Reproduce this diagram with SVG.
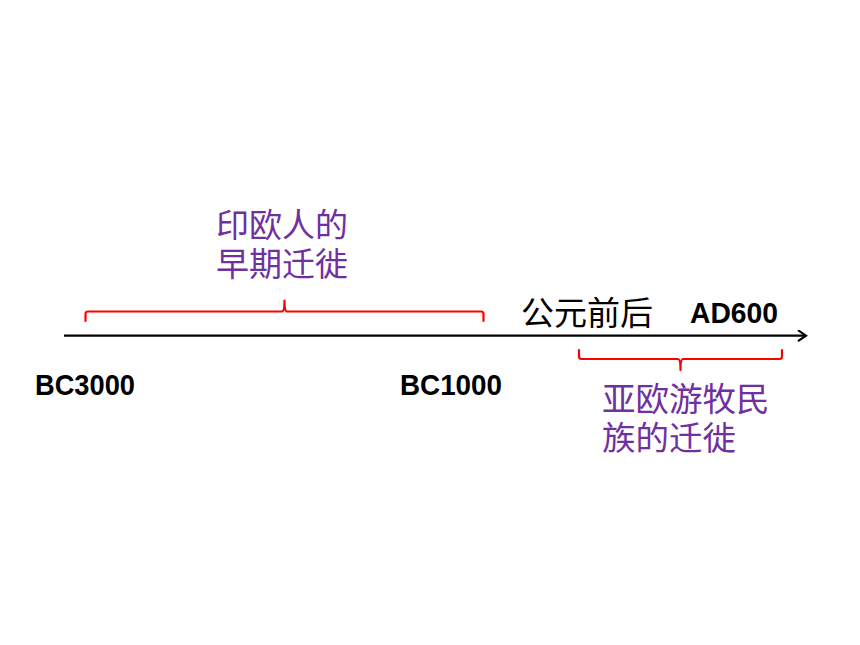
<svg xmlns="http://www.w3.org/2000/svg" width="860" height="645" viewBox="0 0 860 645">
<style>
.cjk{font-family:"Noto Sans CJK SC","Noto Sans",sans-serif;font-size:33px;}
.purple{fill:#7030A0;}
.bold{font-family:"Liberation Sans",Arial,sans-serif;font-weight:bold;font-size:30px;fill:#000;}
.brace{fill:none;stroke:#FF0000;stroke-width:2.2;stroke-linejoin:round;stroke-linecap:round;}
.axis{fill:none;stroke:#000;stroke-width:2.2;}
</style>
<defs>
<marker id="arr" markerWidth="12" markerHeight="14" refX="9" refY="6" orient="auto" markerUnits="userSpaceOnUse">
<path d="M1,0.5 L9,6 L1,11.5" fill="none" stroke="#000" stroke-width="2.2"/>
</marker>
</defs>
<rect width="860" height="645" fill="#fff"/>
<g id="connectors">
<line class="axis" x1="64" y1="335.7" x2="806" y2="335.7" marker-end="url(#arr)"/>
<path id="brace-early" class="brace" d="M85.5,321 L85.5,314 Q85.5,311.5 88,311.5 L282,311.5 Q284.5,311.5 284.5,300.5 Q284.5,311.5 287,311.5 L481,311.5 Q483.5,311.5 483.5,314 L483.5,321"/>
<path id="brace-late" class="brace" d="M579,350 L579,356.5 Q579,359 581.5,359 L678,359 Q680.5,359 680.5,370 Q680.5,359 683,359 L779.5,359 Q782,359 782,356.5 L782,350"/>
</g>
<g id="node-early">
<text class="cjk purple" x="216" y="237">印欧人的</text>
<text class="cjk purple" x="216" y="276">早期迁徙</text>
</g>
<g id="node-bc3000">
<text class="bold" x="35" y="395" textLength="100" lengthAdjust="spacingAndGlyphs">BC3000</text>
</g>
<g id="node-bc1000">
<text class="bold" x="400" y="395" textLength="102" lengthAdjust="spacingAndGlyphs">BC1000</text>
</g>
<g id="node-ce">
<text class="cjk" x="521" y="325" fill="#000">公元前后</text>
</g>
<g id="node-ad600">
<text class="bold" x="690" y="323" textLength="88" lengthAdjust="spacingAndGlyphs">AD600</text>
</g>
<g id="node-late">
<text class="cjk purple" x="602" y="411" style="font-size:33.5px">亚欧游牧民</text>
<text class="cjk purple" x="602" y="450" style="font-size:33.5px">族的迁徙</text>
</g>
</svg>
